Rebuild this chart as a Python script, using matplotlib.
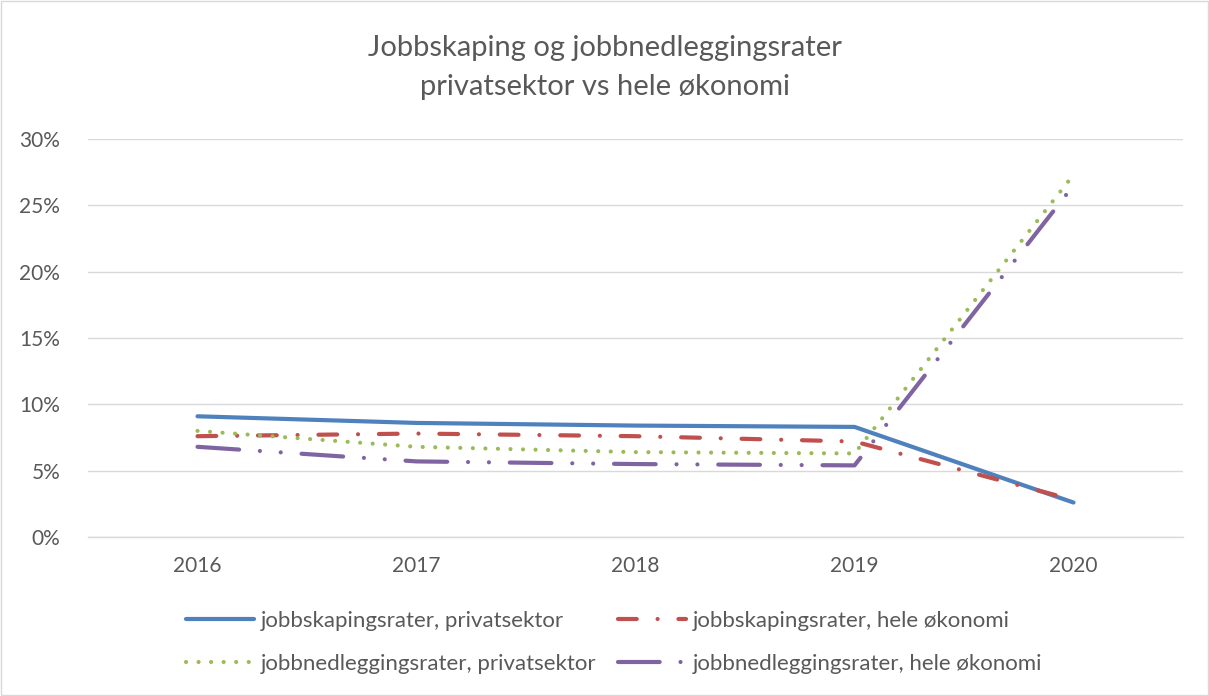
import matplotlib.pyplot as plt
from matplotlib.patches import Rectangle
from matplotlib.ticker import PercentFormatter

plt.rcParams['font.family'] = ['Lato', 'DejaVu Sans']

years = ['2016', '2017', '2018', '2019', '2020']
skaping_privat = [9.1, 8.6, 8.4, 8.3, 2.6]
skaping_hele = [7.6, 7.8, 7.6, 7.2, 2.8]
nedlegging_privat = [8.0, 6.8, 6.4, 6.3, 27.3]
nedlegging_hele = [6.8, 5.7, 5.5, 5.4, 26.5]

labels = ['jobbskapingsrater, privatsektor', 'jobbskapingsrater, hele økonomi',
          'jobbnedleggingsrater, privatsektor', 'jobbnedleggingsrater, hele økonomi']
colors = ['#4F81BD', '#C0504D', '#9BBB59', '#8064A2']
grey = '#595959'

fig = plt.figure(figsize=(12.09, 6.96), dpi=100)
ax = fig.add_axes([0.0728, 0.2284, 0.9057, 0.5719])

x = range(len(years))
lw = 3
l1, = ax.plot(x, skaping_privat, color=colors[0], lw=lw, solid_capstyle='round',
              solid_joinstyle='round', label=labels[0], zorder=3)
l2, = ax.plot(x, skaping_hele, color=colors[1], lw=lw, dashes=(4.5, 5, 0.01, 5),
              dash_capstyle='round', label=labels[1], zorder=3)
l3, = ax.plot(x, nedlegging_privat, color=colors[2], lw=lw, dashes=(0.01, 3),
              dash_capstyle='round', label=labels[2], zorder=3)
l4, = ax.plot(x, nedlegging_hele, color=colors[3], lw=lw, dashes=(10, 5, 0.01, 5, 0.01, 5),
              dash_capstyle='round', label=labels[3], zorder=3)

ax.set_xlim(-0.5, 4.5)
ax.set_ylim(0, 30)
ax.set_xticks(list(x))
ax.set_xticklabels(years)
ax.set_yticks(range(0, 31, 5))
ax.yaxis.set_major_formatter(PercentFormatter(decimals=0))
ax.tick_params(length=0, labelsize=15, labelcolor=grey)
ax.tick_params(axis='x', pad=14)
ax.tick_params(axis='y', pad=20)
ax.grid(axis='y', color='#d9d9d9', lw=1)
ax.set_axisbelow(True)
for s in ['top', 'right', 'left']:
    ax.spines[s].set_visible(False)
ax.spines['bottom'].set_color('#d9d9d9')
ax.spines['bottom'].set_linewidth(1)

fig.text(0.5, 0.903, 'Jobbskaping og jobbnedleggingsrater\nprivatsektor vs hele økonomi',
         ha='center', va='center', fontsize=21, color=grey, linespacing=1.62)

# rekkefølge slik at radene blir som i Excel-forklaringen
fig.legend([l1, l3, l2, l4], [labels[0], labels[2], labels[1], labels[3]],
           loc='center', bbox_to_anchor=(0.508, 0.077), ncol=2, frameon=False,
           fontsize=16, labelcolor=grey, handlelength=3.05, handletextpad=0.3,
           columnspacing=1.0, labelspacing=1.05)

fig.patches.append(Rectangle((0.001, 0.001), 0.998, 0.998, transform=fig.transFigure,
                             fill=False, edgecolor='#d9d9d9', lw=1))

fig.savefig('out.png', dpi=100)
